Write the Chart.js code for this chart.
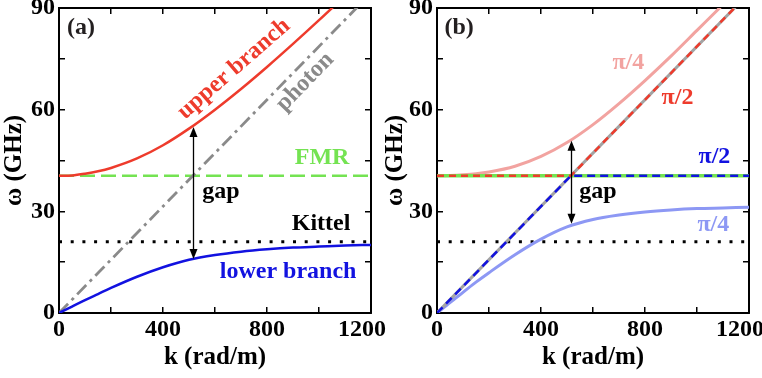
<!DOCTYPE html>
<html><head><meta charset="utf-8">
<script src="https://cdn.jsdelivr.net/npm/chart.js@4/dist/chart.umd.min.js"></script>
<style>
html,body{margin:0;padding:0;background:#fff;}
#wrap{position:relative;width:762px;height:378px;overflow:hidden;background:#fff;}
canvas{position:absolute;top:0;}
#ca{left:0;} #cb{left:381px;}
</style></head><body>
<div id="wrap"><canvas id="ca" width="400" height="378"></canvas><canvas id="cb" width="381" height="378"></canvas></div>
<script>
// ---- data (k in rad/m, omega in GHz) ----
const kValues      = [0, 50, 100, 150, 200, 300, 400, 500, 600, 700, 800, 900, 1000, 1100, 1200];
const upperBranch  = [40.5, 40.6, 41.1, 41.8, 42.8, 45.6, 49.5, 54.4, 60.0, 66.1, 72.6, 79.4, 86.4, 93.6, 100.9];
const lowerBranch  = [0, 1.9, 3.8, 5.6, 7.4, 10.7, 13.5, 15.7, 17.1, 18.1, 18.8, 19.3, 19.6, 19.9, 20.1];
const upperQuarter = [40.5, 40.6, 40.8, 41.1, 41.6, 43.3, 46.2, 50.3, 55.6, 61.8, 68.6, 75.8, 83.4, 91.0, 98.4];
const lowerQuarter = [0, 3.1, 6.1, 9.1, 11.9, 17.2, 21.8, 25.4, 27.6, 28.9, 29.8, 30.4, 30.8, 31.0, 31.2];
const lineK        = [0, 1200];
const photonLine   = [0, 94.4];
const fmrLine      = [40.5, 40.5];
const kittelLine   = [21.0, 21.0];
const halfPiK      = [0, 515, 1200];
const halfPiUpper  = [40.5, 40.5, 94.4];
const halfPiLower  = [0, 40.5, 40.5];
const gapK         = 515;
const gapA         = [15.9, 54.9];
const gapB         = [26.3, 50.8];
const xTickLabels  = [0, 400, 800, 1200];
const yTickLabels  = [0, 30, 60, 90];

const FONT = "'Liberation Serif','Times New Roman',serif";
const RED = '#ee3b2c', BLUE = '#1212e0', GREEN = '#74e352', GRAY = '#8a8a8a';
const PINK = '#f2a3a0', LBLUE = '#8d98f4';

function pts(xs, ys){ return xs.map((x,i)=>({x:x, y:ys[i]})); }
function gridOpt(){ return {drawOnChartArea:false, tickLength:-6, color:'#000', tickColor:'#000', lineWidth:1.5, tickWidth:1.5}; }
function borderOpt(){ return {display:true, color:'#000', width:2}; }
function fnt(sz){ return {family:FONT, size:sz, weight:'bold', lineHeight:1.2}; }

function xLabel(v){
  if (!xTickLabels.includes(v)) return '';
  // last label sits slightly left of the axis end, as in the original figure
  return v === xTickLabels[xTickLabels.length - 1] ? String(v) + '   ' : String(v);
}

function scales(leftW, rightW){
  return {
    x: {type:'linear', position:'bottom', min:0, max:1200, grid:gridOpt(), border:borderOpt(),
        ticks:{stepSize:200, padding:8, color:'#000', font:fnt(24), maxRotation:0, autoSkip:false,
               callback:v=> xLabel(v)},
        title:{display:true, text:'k (rad/m)', color:'#000', font:fnt(25), padding:{top:0,bottom:5}},
        afterFit:s=>{ s.height=65; s.paddingLeft=0; s.paddingRight=0; }},
    x2:{type:'linear', position:'top', min:0, max:1200, grid:gridOpt(), border:borderOpt(),
        ticks:{display:false, stepSize:200},
        afterFit:s=>{ s.height=8; s.paddingLeft=0; s.paddingRight=0; }},
    y: {type:'linear', position:'left', min:0, max:90, grid:gridOpt(), border:borderOpt(),
        ticks:{stepSize:15, padding:10, color:'#000', font:fnt(24), autoSkip:false,
               callback:v=> yTickLabels.includes(v) ? String(v) : ''},
        title:{display:true, text:'ω (GHz)', color:'#000', font:fnt(25), padding:{top:0,bottom:0}},
        afterFit:s=>{ s.width=leftW; s.paddingTop=0; s.paddingBottom=0; }},
    y2:{type:'linear', position:'right', min:0, max:90, grid:gridOpt(), border:borderOpt(),
        ticks:{display:false, stepSize:15},
        afterFit:s=>{ s.width=rightW; s.paddingTop=0; s.paddingBottom=0; }}
  };
}

const annot = {
  id:'annot',
  afterDatasetsDraw(chart, args, opts){
    const ctx = chart.ctx, x = chart.scales.x, y = chart.scales.y;
    if (opts.arrow){
      const a = opts.arrow;
      const px = Math.round(x.getPixelForValue(a.k)) + 0.5;
      const yl = y.getPixelForValue(a.lo), yh = y.getPixelForValue(a.hi);
      const L = 10, W = 4;
      ctx.save();
      ctx.strokeStyle = '#000'; ctx.fillStyle = '#000'; ctx.lineWidth = 1.3;
      ctx.beginPath(); ctx.moveTo(px, yh + L - 1); ctx.lineTo(px, yl - L + 1); ctx.stroke();
      ctx.beginPath(); ctx.moveTo(px, yh); ctx.lineTo(px - W, yh + L); ctx.lineTo(px + W, yh + L); ctx.closePath(); ctx.fill();
      ctx.beginPath(); ctx.moveTo(px, yl); ctx.lineTo(px - W, yl - L); ctx.lineTo(px + W, yl - L); ctx.closePath(); ctx.fill();
      ctx.restore();
    }
    (opts.texts || []).forEach(t=>{
      ctx.save();
      ctx.translate(x.getPixelForValue(t.k), y.getPixelForValue(t.w));
      ctx.rotate((t.rot || 0) * Math.PI / 180);
      ctx.font = 'bold ' + (t.size || 24) + 'px ' + FONT;
      ctx.fillStyle = t.color; ctx.textAlign = 'center'; ctx.textBaseline = 'middle';
      ctx.fillText(t.text, 0, 0);
      ctx.restore();
    });
  }
};

function ds(data, color, width, dash, extra){
  return Object.assign({data:data, borderColor:color, backgroundColor:color, borderWidth:width,
    borderDash:dash || [], pointRadius:0, fill:false, cubicInterpolationMode:'monotone', borderCapStyle:'butt'}, extra || {});
}

Chart.defaults.animation = false;

new Chart(document.getElementById('ca'), {
  type:'line',
  data:{datasets:[
    ds(pts(kValues, upperBranch), RED, 2.5),
    ds(pts(kValues, lowerBranch), BLUE, 2.5),
    ds(pts(lineK, photonLine), GRAY, 2.8, [13,5,3,5]),
    ds(pts(lineK, fmrLine), GREEN, 2.5, [15,6]),
    ds(pts(lineK, kittelLine), '#000', 3, [3,8.7])
  ]},
  options:{responsive:false, animation:false, layout:{padding:0},
    plugins:{legend:{display:false}, tooltip:{enabled:false},
      annot:{arrow:{k:gapK, lo:gapA[0], hi:gapA[1]},
        texts:[
          {text:'(a)', k:85, w:84.1, color:'#231f20', size:24},
          {text:'upper branch', k:673, w:72, rot:-41, color:RED},
          {text:'photon', k:946, w:68.2, rot:-46, color:GRAY},
          {text:'FMR', k:1012, w:45.7, color:GREEN},
          {text:'gap', k:623, w:35.8, color:'#000'},
          {text:'Kittel', k:1008, w:26.3, color:'#000'},
          {text:'lower branch', k:881, w:12.1, color:BLUE}
        ]}},
    scales:scales(59, 29)},
  plugins:[annot]
});

new Chart(document.getElementById('cb'), {
  type:'line',
  data:{datasets:[
    ds(pts(halfPiK, halfPiUpper), RED, 2.5, [7,5], {cubicInterpolationMode:'default', tension:0}),
    ds(pts(halfPiK, halfPiLower), BLUE, 2.5, [8,5], {cubicInterpolationMode:'default', tension:0}),
    ds(pts(lineK, photonLine), '#a3a3a3', 3),
    ds(pts(lineK, fmrLine), GREEN, 3.5),
    ds(pts(kValues, upperQuarter), PINK, 3),
    ds(pts(kValues, lowerQuarter), LBLUE, 3),
    ds(pts(lineK, kittelLine), '#000', 3, [3,8.7])
  ]},
  options:{responsive:false, animation:false, layout:{padding:0},
    plugins:{legend:{display:false}, tooltip:{enabled:false},
      annot:{arrow:{k:gapK, lo:gapB[0], hi:gapB[1]},
        texts:[
          {text:'(b)', k:85, w:84.1, color:'#231f20', size:24},
          {text:'π/4', k:736, w:73.8, color:PINK},
          {text:'π/2', k:925, w:63.4, color:RED},
          {text:'π/2', k:1067, w:46.2, color:BLUE},
          {text:'gap', k:619, w:35.8, color:'#000'},
          {text:'π/4', k:1063, w:26.0, color:LBLUE}
        ]}},
    scales:scales(56, 13)},
  plugins:[annot]
});
</script>
</body></html>
